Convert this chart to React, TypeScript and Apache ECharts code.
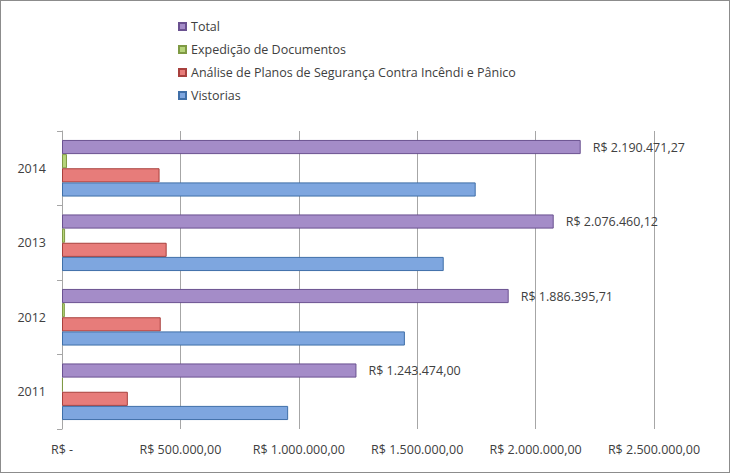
import React, { useEffect, useRef } from "react";
import * as echarts from "echarts";

const years = ["2011", "2012", "2013", "2014"];
const vistorias = [955000, 1448000, 1612000, 1747000];
const analise = [278000, 417000, 442000, 412000];
const expedicao = [4000, 12000, 13000, 21000];
const total = [1243474.0, 1886395.71, 2076460.12, 2190471.27];
const xTicks = [0, 500000, 1000000, 1500000, 2000000, 2500000];

const brl = (v: number) => {
  if (v === 0) return "R$ -";
  const [i, d] = v.toFixed(2).split(".");
  return "R$ " + i.replace(/\B(?=(\d{3})+(?!\d))/g, ".") + "," + d;
};

export default function App() {
  const ref = useRef<HTMLDivElement>(null);
  useEffect(() => {
    const chart = echarts.init(ref.current!, null, { renderer: "svg" });
    const font = "Open Sans";
    const mk = (name: string, data: number[], color: string, border: string, label = false) => ({
      name,
      type: "bar",
      data,
      barGap: "0%",
      barCategoryGap: "24%",
      itemStyle: { color, borderColor: border, borderWidth: 1 },
      label: label
        ? { show: true, position: "right", distance: 12, formatter: (p: any) => brl(p.value), color: "#404040", fontSize: 12.5, fontFamily: font }
        : { show: false },
    });
    chart.setOption({
      animation: false,
      backgroundColor: "#fff",
      textStyle: { fontFamily: font },
      legend: {
        orient: "vertical",
        left: 172,
        top: 14,
        itemGap: 10,
        itemWidth: 7,
        itemHeight: 7,
        icon: "rect",
        textStyle: { color: "#404040", fontSize: 12.5, fontFamily: font },
        data: ["Total", "Expedição de Documentos", "Análise de Planos de Segurança Contra Incêndi e Pânico", "Vistorias"],
      },
      grid: { left: 61, right: 75, top: 130, bottom: 43 },
      xAxis: {
        type: "value",
        min: 0,
        max: xTicks[xTicks.length - 1],
        interval: xTicks[1],
        axisLabel: { formatter: (v: number) => brl(v), color: "#404040", fontSize: 12.5, margin: 14, fontFamily: font },
        splitLine: { lineStyle: { color: "#a6a6a6" } },
        axisLine: { show: false },
      },
      yAxis: {
        type: "category",
        data: years,
        axisLine: { lineStyle: { color: "#a6a6a6" } },
        axisTick: { show: true, length: 5, lineStyle: { color: "#a6a6a6" } },
        axisLabel: { color: "#404040", fontSize: 12.5, margin: 16, fontFamily: font },
      },
      series: [
        mk("Total", total, "#a48cc8", "#6a5190", true),
        mk("Expedição de Documentos", expedicao, "#b6d47a", "#7f9a44"),
        mk("Análise de Planos de Segurança Contra Incêndi e Pânico", analise, "#e77c7a", "#a8403d"),
        mk("Vistorias", vistorias, "#7ea6df", "#3f6fa8"),
      ],
    });
    return () => chart.dispose();
  }, []);
  return (
    <div style={{ position: "fixed", left: 0, top: 0, width: 730, height: 473, border: "1px solid #8c8c8c", boxSizing: "border-box", background: "#fff" }}>
      <div ref={ref} style={{ width: 728, height: 471 }} />
    </div>
  );
}
